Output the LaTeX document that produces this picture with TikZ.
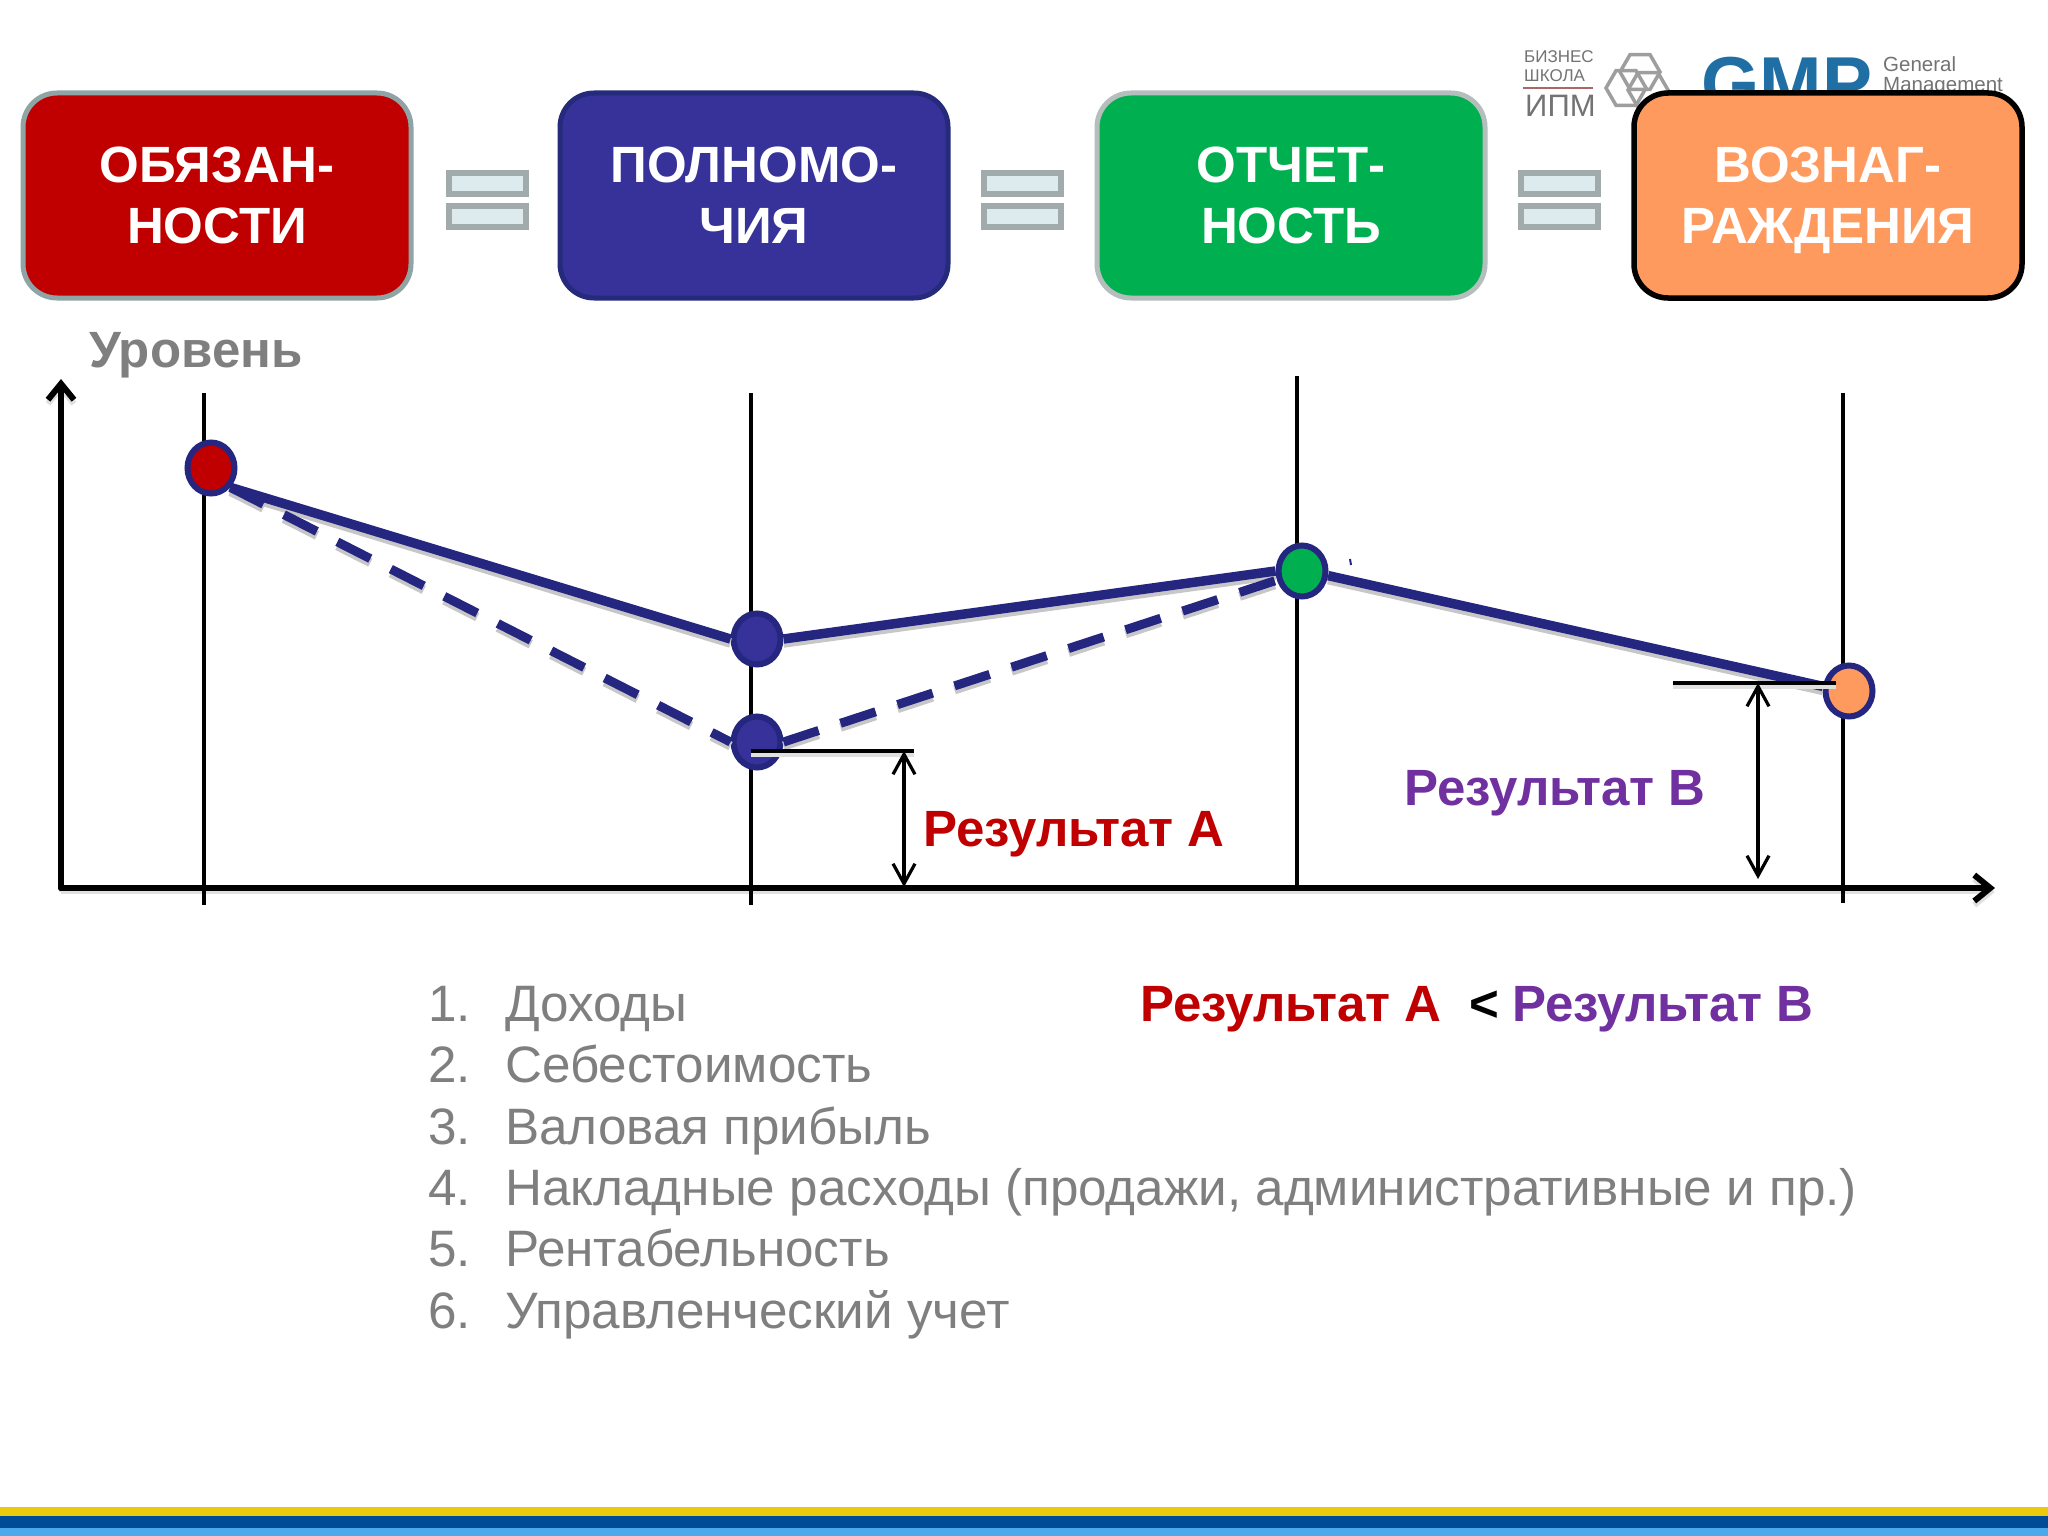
\documentclass[tikz,border=0pt]{standalone}
\usepackage{fontspec}
\setmainfont{Liberation Sans}
\usetikzlibrary{arrows.meta,shapes.geometric}
\definecolor{navy}{HTML}{25267F}
\definecolor{resred}{HTML}{C00000}
\definecolor{respurple}{HTML}{7030A0}
\definecolor{txtgray}{HTML}{7F7F7F}
\definecolor{eqgray}{HTML}{A2ABAB}
\definecolor{eqfill}{HTML}{DDEAEE}
\definecolor{bandyellow}{HTML}{EDC90C}
\definecolor{banddark}{HTML}{004B97}
\definecolor{bandlight}{HTML}{4AA8EC}
\definecolor{boxred}{HTML}{C00000}
\definecolor{boxredline}{HTML}{8FA5A5}
\definecolor{boxblue}{HTML}{363299}
\definecolor{boxblueline}{HTML}{262A7A}
\definecolor{boxgreen}{HTML}{00B050}
\definecolor{boxgreenline}{HTML}{B5BDBD}
\definecolor{boxorange}{HTML}{FF9A5F}
\definecolor{gmpblue}{HTML}{1F6FA5}
\tikzset{
  x=1pt,y=-1pt,
  headbox/.style={rectangle,rounded corners=34pt,minimum width=388pt,minimum height=205pt,inner sep=0pt,line width=5pt,text=white,align=center,font=\fontsize{51}{61}\selectfont\bfseries},
  eqpart/.style={draw=eqgray,fill=eqfill,line width=5.5pt},
  chartdot/.style={ellipse,draw=navy,line width=6pt,minimum width=47pt,minimum height=51pt,inner sep=0pt},
  softthin/.style={preaction={draw=black!12,line width=4pt,transform canvas={yshift=-4pt}}},
  axisline/.style={draw=black,line width=6pt,line cap=round,-{Straight Barb[length=16pt,width=26pt,line width=6pt]}},
  guide/.style={draw=black,line width=3.2pt},
  dimline/.style={draw=black,line width=3.2pt,{Straight Barb[length=20pt,width=22pt,line width=3.2pt]}-{Straight Barb[length=20pt,width=22pt,line width=3.2pt]}},
  profile/.style={preaction={draw=black!22,line width=9.5pt,transform canvas={yshift=-4pt}},draw=navy,line width=9.5pt},
  profiledash/.style={preaction={draw=black!22,line width=9pt,dash pattern=on 37pt off 23pt,transform canvas={yshift=-4pt}},draw=navy,line width=9pt,dash pattern=on 37pt off 23pt},
  result/.style={inner sep=0pt,anchor=base west,font=\fontsize{51}{60}\selectfont\bfseries},
  listitem/.style={inner sep=0pt,anchor=base west,text=txtgray,font=\fontsize{51.2}{60}\selectfont},
  logotext/.style={inner sep=0pt,anchor=base west,text=black!55},
  logohex/.style={regular polygon,regular polygon sides=6,draw=black!38,line width=3.5pt,minimum size=40pt,inner sep=0pt},
}
\begin{document}
\begin{tikzpicture}
\useasboundingbox (0,0) rectangle (2048,1536);
\fill[white] (0,0) rectangle (2048,1536);
% bottom band
\fill[bandyellow] (0,1507) rectangle (2048,1516);
\fill[banddark] (0,1516) rectangle (2048,1528);
\fill[bandlight] (0,1528) rectangle (2048,1536);
% logos (partly covered by the fourth box)
\node[logotext,font=\fontsize{17}{17}\selectfont] (lg1) at (1524,63) {БИЗНЕС};
\node[logotext,font=\fontsize{17}{17}\selectfont] (lg2) at (1524,82) {ШКОЛА};
\draw[draw=resred!60!black!60,line width=1.5pt] (1523,88) -- (1593,88);
\node[logotext,font=\fontsize{31}{31}\selectfont] (lg3) at (1525,117) {ИПМ};
\node[logohex] (hx1) at (1640,72) {};
\node[logohex] (hx2) at (1626,88) {};
\node[logohex] (hx3) at (1648,90) {};
\node[inner sep=0pt,anchor=base west,text=gmpblue,font=\fontsize{75}{75}\selectfont\bfseries] (gmp) at (1701,110) {GMP};
\node[logotext,font=\fontsize{20.5}{20.5}\selectfont] (gn1) at (1883,72) {General};
\node[logotext,font=\fontsize{20.5}{20.5}\selectfont] (gn2) at (1883,92) {Management};
% header boxes
\node[headbox,draw=boxredline,fill=boxred] (b1) at (217,195.5) {ОБЯЗАН-\\НОСТИ};
\node[headbox,draw=boxblueline,fill=boxblue] (b2) at (754,195.5) {ПОЛНОМО-\\ЧИЯ};
\node[headbox,draw=boxgreenline,fill=boxgreen] (b3) at (1291,195.5) {ОТЧЕТ-\\НОСТЬ};
\node[headbox,draw=black,fill=boxorange,line width=5.5pt] (b4) at (1828,195.5) {ВОЗНАГ-\\\smash{РАЖДЕНИЯ}};
% equals signs
\foreach \ex in {449,984,1521}{
  \draw[eqpart] (\ex,173) rectangle ++(77,21);
  \draw[eqpart] (\ex,206) rectangle ++(77,21);
}
% axes
\node[inner sep=0pt,anchor=base west,text=txtgray,font=\fontsize{51}{60}\selectfont\bfseries] (lvl) at (89,367) {Уровень};
\coordinate (orig) at (61,888);
\coordinate (ytop) at (61,379);
\coordinate (xend) at (1995,888);
\draw[axisline,softthin] (orig) -- (ytop);
\draw[axisline,softthin] (orig) -- (xend);
\draw[guide] (204,393) -- (204,905);
\draw[guide] (751,393) -- (751,905);
\draw[guide] (1297,376) -- (1297,888);
\draw[guide] (1843,393) -- (1843,903);
% points
\node[chartdot,fill=boxred] (p1) at (211,468) {};
\node[chartdot,fill=boxblue] (p2) at (757,639) {};
\node[chartdot,fill=boxblue] (p3) at (757,742) {};
\node[chartdot,fill=boxgreen] (p4) at (1302,571) {};
\node[chartdot,fill=boxorange] (p5) at (1849,691) {};
% profiles
\draw[profile] (p1.-45) -- (p2.west);
\draw[profile] (p2.east) -- (p4.west);
\draw[profile] (p4.-10) -- (p5.170);
\draw[profiledash] (p1.-45) -- (p3.west);
\draw[profiledash] (p3.east) -- (p4.-160);
\draw[navy,line width=2pt] (1350,559) -- (1351,565);
% result A
\coordinate (ra0) at (751,751);
\coordinate (ra1) at (914,751);
\coordinate (ra2) at (904,751);
\coordinate (ra3) at (904,887);
\draw[guide,softthin] (ra0) -- (ra1);
\draw[dimline] (ra2) -- (ra3);
% result B
\coordinate (rb0) at (1673,683);
\coordinate (rb1) at (1836,683);
\coordinate (rb2) at (1758,683);
\coordinate (rb3) at (1758,879);
\draw[guide,softthin] (rb0) -- (rb1);
\draw[dimline] (rb2) -- (rb3);
\node[result,text=resred] (ta) at (923,846) {Результат А};
\node[result,text=respurple] (tb) at (1404,805) {Результат В};
% list
\foreach \n/\t/\yy in {1/{Доходы}/1021,2/{Себестоимость}/1082,3/{Валовая прибыль}/1144,4/{Накладные расходы (продажи, административные и пр.)}/1205,5/{Рентабельность}/1266,6/{Управленческий учет}/1328}{
  \node[listitem] (num\n) at (428,\yy) {\n.};
  \node[listitem] (item\n) at (505,\yy) {\t};
}
\node[result,text=resred] (cmpa) at (1140,1021) {Результат А};
\node[result,text=black] (cmpl) at (1469,1021) {<};
\node[result,text=respurple] (cmpb) at (1512,1021) {Результат В};
\end{tikzpicture}
\end{document}
